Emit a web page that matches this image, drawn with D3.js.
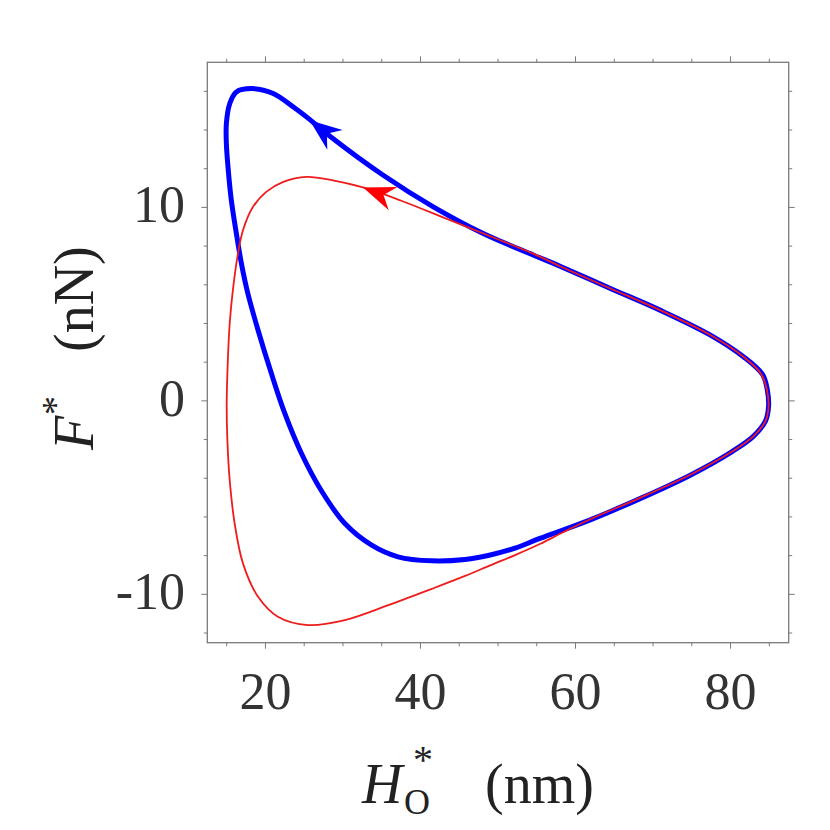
<!DOCTYPE html>
<html>
<head>
<meta charset="utf-8">
<script src="https://cdn.jsdelivr.net/npm/d3@7"></script>
<style>
  body { margin: 0; background: #fff; }
  svg { font-family: "Liberation Serif", "Times New Roman", serif; }
</style>
</head>
<body>
<svg width="830" height="830"></svg>
<script>
// trajectory of the thick (blue) loop, H* in nm, F* in nN
const blueLoop = [
  [84.9,-0.3],[84.75,0.55],[84.15,1.35],[81.7,2.27],[77.4,3.4],[70.9,4.69],[64.5,5.81],
  [58.0,6.96],[54.6,7.53],[48.1,8.65],[41.65,10.03],[35.2,11.66],[28.7,13.56],[25.7,14.55],
  [23.6,15.19],[21.0,15.89],[18.2,16.14],[16.25,15.97],[15.4,15.37],[14.96,14.34],[14.96,13.3],
  [15.17,12.09],[15.6,10.37],[16.25,8.65],[16.9,7.1],[17.7,5.6],[19.05,3.65],[20.77,1.41],
  [22.5,-0.65],[24.65,-2.72],[27.3,-4.7],[30.25,-6.34],[33.7,-7.46],[37.1,-8.06],[41.45,-8.27],
  [45.75,-8.2],[49.0,-7.97],[52.2,-7.61],[55.4,-7.11],[61.9,-6.15],[68.4,-5.04],[74.8,-3.84],
  [80.2,-2.62],[82.9,-1.85],[84.5,-1.05]
];
// trajectory of the thin (red) loop
const redLoop = [
  [84.9,-0.3],[84.7,0.55],[83.9,1.42],[81.7,2.27],[77.4,3.4],[70.9,4.69],[64.5,5.81],
  [58.0,6.96],[54.6,7.6],[50.3,8.3],[43.8,9.34],[37.35,10.37],[32.6,11.03],[28.7,11.4],
  [25.3,11.58],[22.3,11.32],[20.1,10.8],[18.4,10.03],[17.1,8.82],[16.46,7.62],[15.8,5.72],
  [15.39,4.0],[15.09,1.41],[15.0,-0.31],[15.09,-2.03],[15.39,-4.1],[16.03,-6.34],[17.1,-8.4],
  [19.05,-10.13],[21.6,-11.16],[25.5,-11.59],[30.25,-11.33],[35.85,-10.56],[41.45,-9.72],
  [45.75,-9.05],[49.0,-8.5],[52.2,-7.97],[55.4,-7.4],[58.6,-6.75],[61.9,-6.12],[68.4,-5.0],
  [74.8,-3.82],[80.2,-2.62],[82.9,-1.85],[84.5,-1.05]
];
// arrowheads: tip and a point behind it on the curve
const blueArrow = { tip: [25.7, 14.5], back: [29.06, 13.46] };
const redArrow = { tip: [32.6, 11.03], back: [36.02, 10.52] };

const xMajor = [20, 40, 60, 80];
const xMinor = d3.range(15, 86, 5);
const yMajor = [-10, 0, 10];
const yMinor = d3.range(-12, 17, 2);

const svg = d3.select("svg");
const pl = 207.3, pr = 788.7, pt = 62.3, pb = 642.7;

const x = d3.scaleLinear().domain([12.5, 87.5]).range([pl, pr]);
const y = d3.scaleLinear().domain([-12.5, 17.5]).range([pb, pt]);

const frameCol = "#7a7a7a";

// ticks, all four sides pointing outward
function ticks(sel, vals, len, orient) {
  sel.selectAll(null).data(vals).enter().append("line")
    .attr("stroke", frameCol).attr("stroke-width", 1)
    .each(function(d) {
      const l = d3.select(this);
      if (orient === "bottom") l.attr("x1", x(d)).attr("x2", x(d)).attr("y1", pb).attr("y2", pb + len);
      if (orient === "top") l.attr("x1", x(d)).attr("x2", x(d)).attr("y1", pt).attr("y2", pt - len);
      if (orient === "left") l.attr("y1", y(d)).attr("y2", y(d)).attr("x1", pl).attr("x2", pl - len);
      if (orient === "right") l.attr("y1", y(d)).attr("y2", y(d)).attr("x1", pr).attr("x2", pr + len);
    });
}
const tg = svg.append("g");
["bottom", "top"].forEach(o => {
  ticks(tg, xMinor.filter(v => !xMajor.includes(v)), 3.5, o);
  ticks(tg, xMajor, 6, o);
});
["left", "right"].forEach(o => {
  ticks(tg, yMinor.filter(v => !yMajor.includes(v)), 3.5, o);
  ticks(tg, yMajor, 6, o);
});

svg.append("rect")
  .attr("x", pl).attr("y", pt)
  .attr("width", pr - pl).attr("height", pb - pt)
  .attr("fill", "none").attr("stroke", frameCol).attr("stroke-width", 1.3);

// tick labels
svg.append("g").selectAll("text").data(xMajor).enter().append("text")
  .attr("x", d => x(d)).attr("y", 709)
  .attr("text-anchor", "middle")
  .attr("font-size", 52).attr("fill", "#333")
  .text(d => d);

svg.append("g").selectAll("text").data(yMajor).enter().append("text")
  .attr("x", 185).attr("y", d => y(d) + 15)
  .attr("text-anchor", "end")
  .attr("font-size", 52).attr("fill", "#333")
  .text(d => d < 0 ? "-" + Math.abs(d) : d);

// curves
const line = d3.line()
  .x(d => x(d[0])).y(d => y(d[1]))
  .curve(d3.curveCatmullRomClosed.alpha(0.5));

const plot = svg.append("g");
plot.append("path").datum(blueLoop)
  .attr("d", line)
  .attr("fill", "none").attr("stroke", "#0000ff")
  .attr("stroke-width", 5).attr("stroke-linejoin", "round");
plot.append("path").datum(redLoop)
  .attr("d", line)
  .attr("fill", "none").attr("stroke", "#ee1c1c")
  .attr("stroke-width", 1.8).attr("stroke-linejoin", "round");

// arrowheads
function arrow(a, col) {
  const tx = x(a.tip[0]), ty = y(a.tip[1]);
  const bx = x(a.back[0]), by = y(a.back[1]);
  const ang = Math.atan2(ty - by, tx - bx) * 180 / Math.PI;
  const L = 32, W = 12.5;
  plot.append("path")
    .attr("d", `M0,0 L${-L},${-W} L${-0.68 * L},0 L${-L},${W} Z`)
    .attr("transform", `translate(${tx},${ty}) rotate(${ang})`)
    .attr("fill", col);
}
arrow(blueArrow, "#0000ff");
arrow(redArrow, "#ff0000");

// axis titles (one text element each, super/subscripts as tspans)
const xt = svg.append("text").attr("fill", "#222").attr("font-size", 56);
xt.append("tspan").attr("x", 362).attr("y", 803).attr("font-style", "italic").text("H");
xt.append("tspan").attr("x", 413).attr("y", 773).attr("font-size", 40).text("*");
xt.append("tspan").attr("x", 404).attr("y", 814).attr("font-size", 36).text("O");
xt.append("tspan").attr("x", 485).attr("y", 803).text("(nm)");

const yt = svg.append("text").attr("fill", "#222").attr("font-size", 56)
  .attr("transform", "translate(93,450) rotate(-90)");
yt.append("tspan").attr("x", 0).attr("y", 0).attr("font-style", "italic").text("F");
yt.append("tspan").attr("x", 35).attr("y", -25).attr("font-size", 38).text("*");
yt.append("tspan").attr("x", 98).attr("y", 0).text("(nN)");
</script>
</body>
</html>
